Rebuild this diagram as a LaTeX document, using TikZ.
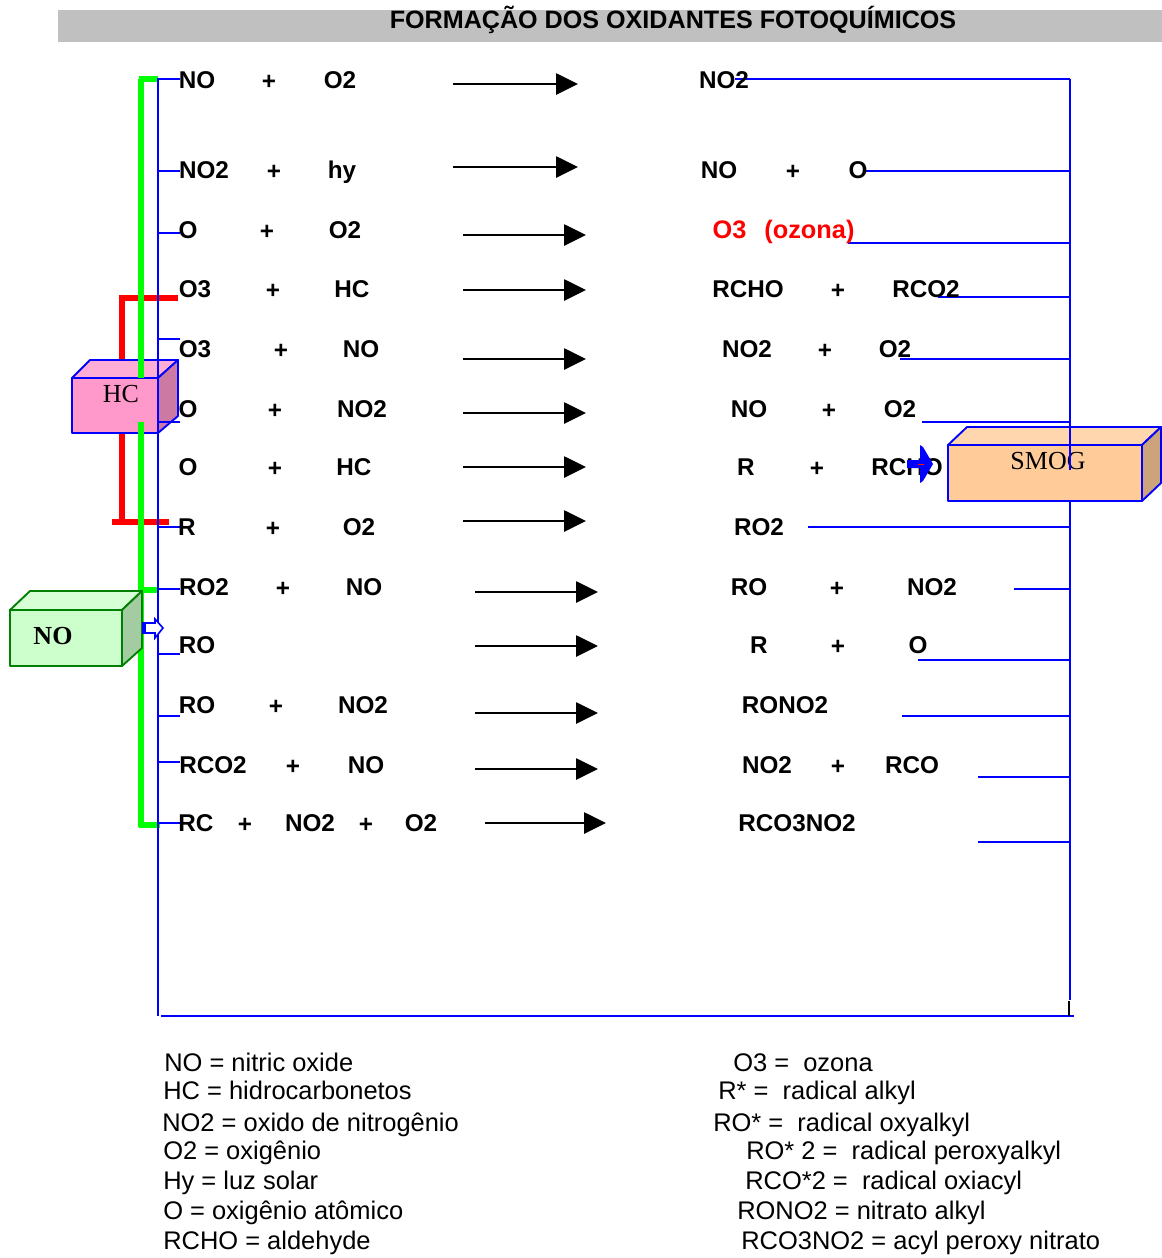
\documentclass[tikz,border=0pt]{standalone}
\usepackage{fontspec}
\setmainfont{Liberation Sans}
\newfontfamily\boxfont{Liberation Serif}
\usepackage{xcolor}
\usepackage{tikz}
\usetikzlibrary{arrows.meta}
\definecolor{titlegray}{HTML}{C0C0C0}
\definecolor{busblue}{HTML}{0000FF}
\definecolor{nogreen}{HTML}{00FF00}
\definecolor{noedge}{HTML}{008000}
\definecolor{nofront}{HTML}{CCFFCC}
\definecolor{notop}{HTML}{D6FFD6}
\definecolor{noside}{HTML}{A3CCA3}
\definecolor{hcfront}{HTML}{FF99CC}
\definecolor{hctop}{HTML}{FFADD6}
\definecolor{hcside}{HTML}{CC7AA3}
\definecolor{smogfront}{HTML}{FFCC99}
\definecolor{smogtop}{HTML}{FFD6AD}
\definecolor{smogside}{HTML}{CCA37A}
\tikzset{
  species/.style={anchor=base,inner sep=0pt,yshift=1.5pt,font=\fontsize{18.2}{20}\selectfont\bfseries},
  legend/.style={anchor=base west,inner sep=0pt,font=\fontsize{19.1}{20}\selectfont},
  boxlabel/.style={anchor=base,inner sep=0pt,font=\fontsize{19.5}{20}\selectfont\boxfont},
  reactarr/.style={-{Triangle[length=16.5pt,width=16pt]},line width=1.2pt,draw=black},
  busline/.style={line width=1.4pt,draw=busblue},
  greenbus/.style={line width=4.5pt,draw=nogreen},
  redbus/.style={line width=4.2pt,draw=red},
  boxedge/.style={line width=1.4pt,line join=round}
}
\begin{document}
\begin{tikzpicture}[x=0.75pt,y=-0.75pt]
    \useasboundingbox (0,0) rectangle (1162,1258);

    \fill[titlegray] (58,10) rectangle (1162,42);
    \node[species,font=\fontsize{18.85}{20}\selectfont\bfseries] (title) at (673,30)
      {FORMAÇÃO DOS OXIDANTES FOTOQUÍMICOS};

    % HC supply
    \draw[redbus] (122,360) -- (122,298) -- (178,298);
    \draw[redbus] (122,432) -- (122,522);
    \draw[redbus] (112,522) -- (169,522);

    \draw[boxedge,draw=busblue,fill=hctop] (72,378) -- (90,360) -- (178,360) -- (158,378) -- cycle;
    \draw[boxedge,draw=busblue,fill=hcside] (158,378) -- (178,360) -- (178,416) -- (158,433) -- cycle;
    \draw[boxedge,draw=busblue,fill=hcfront] (72,378) rectangle (158,433);
    \node[boxlabel] (hc) at (121,402) {HC};

    % NO supply
    \draw[greenbus] (141,79) -- (141,378);
    \draw[greenbus] (141,422) -- (141,827);
    \draw[greenbus] (138.8,79) -- (158,79);
    \draw[greenbus] (138.8,590) -- (158,590);
    \draw[greenbus] (138.8,825) -- (160,825);

    % collecting lines
    \draw[busline] (158,78) -- (158,1016);
    \draw[busline] (161,1016) -- (1074,1016);
    \draw[busline] (1070,79) -- (1070,1000);
    \draw[line width=1.5pt] (1068.5,1001) -- (1068.5,1016);

    \foreach \n/\yy in {a/79,b/171,c/233,d/339,e/422,f/527,g/589,h/654,i/716,j/762,k/823}{
      \coordinate (ls\n) at (158,\yy);
      \coordinate (le\n) at (180,\yy);
      \draw[busline] (ls\n) -- (le\n);
    }
    \foreach \n/\xx/\yy in {a/735/79,b/865/171,c/848/243,d/938/297,e/900/359,f/922/422,
                            g/808/527,h/1014/589,i/918/660,j/902/716,k/978/777,l/978/842}{
      \coordinate (rs\n) at (\xx,\yy);
      \coordinate (re\n) at (1070,\yy);
      \draw[busline] (rs\n) -- (re\n);
    }

    \draw[boxedge,draw=noedge,fill=notop] (10,610) -- (30,591) -- (142,591) -- (122,610) -- cycle;
    \draw[boxedge,draw=noedge,fill=noside] (122,610) -- (142,591) -- (142,648) -- (122,666) -- cycle;
    \draw[boxedge,draw=noedge,fill=nofront] (10,610) rectangle (122,666);
    \node[boxlabel,font=\fontsize{19.5}{20}\selectfont\boxfont\bfseries] (no) at (53,644) {NO};

    \draw[line width=1.2pt,draw=busblue,fill=white] (143,623) -- (155,623) -- (155,619)
      -- (163,628) -- (155,638) -- (155,633) -- (143,633) -- cycle;
    \fill[busblue] (142,623) rectangle (146,634);

    % SMOG
    \draw[boxedge,draw=busblue,fill=smogtop] (948,445) -- (967,427) -- (1161,427) -- (1142,445) -- cycle;
    \draw[boxedge,draw=busblue,fill=smogside] (1142,445) -- (1161,427) -- (1161,483) -- (1142,501) -- cycle;
    \draw[boxedge,draw=busblue,fill=smogfront] (948,445) rectangle (1142,501);
    \node[boxlabel] (smog) at (1048,469) {SMOG};
    \coordinate (smogin) at (1070,427);
    \coordinate (smogstop) at (1070,470);
    \draw[busline] (smogin) -- (smogstop);

    % reactions
    \foreach \nm/\xx/\yy/\txt in {
      aa/197/90/NO,ab/269/91/+,ac/340/90/O2,ad/724/90/NO2,
      ba/204/180/NO2,bb/274/181/+,bc/342/180/hy,bd/719/180/NO,be/793/181/+,bf/858/180/O,
      ca/188/240/O,cb/267/241/+,cc/345/240/O2,
      da/195/299/O3,db/273/300/+,dc/352/299/HC,dd/748/299/RCHO,de/838/300/+,df/926/299/RCO2,
      ea/195/359/O3,eb/281/360/+,ec/361/359/NO,ed/747/359/NO2,ee/825/360/+,ef/895/359/O2,
      fa/188/419/O,fb/275/420/+,fc/362/419/NO2,fd/749/419/NO,fe/829/420/+,ff/900/419/O2,
      ga/188/477/O,gb/275/478/+,gc/354/477/HC,gd/746/477/R,ge/817/478/+,gf/907/477/RCHO,
      ha/187/537/R,hb/273/538/+,hc/359/537/O2,hd/759/537/RO2,
      ia/204/597/RO2,ib/283/598/+,ic/364/597/NO,id/749/597/RO,ie/837/598/+,if/932/597/NO2,
      ja/197/655/RO,jd/759/655/R,je/838/656/+,jf/918/655/O,
      ka/197/715/RO,kb/276/716/+,kc/363/715/NO2,kd/785/715/RONO2,
      la/213/775/RCO2,lb/293/776/+,lc/366/775/NO,ld/767/775/NO2,le/838/776/+,lf/912/775/RCO,
      ma/196/833/RC,mb/245/834/+,mc/310/833/NO2,md/366/834/+,me/421/833/O2,mf/797/833/RCO3NO2}{
      \node[species] (\nm) at (\xx,\yy) {\txt};
    }
    \node[species,text=red,font=\fontsize{19}{20}\selectfont\bfseries] (ozona) at (783.5,240) {O3\ \ \hspace{3pt}(ozona)};

    \foreach \n/\xa/\xb/\yy in {a/453/578/84,b/453/578/167,c/463/586/235,d/463/586/290,
                                e/463/586/359,f/463/586/413,g/463/586/467,h/463/586/521,
                                i/475/598/592,j/475/598/646,k/475/598/713,l/475/598/769,
                                m/485/606/823}{
      \coordinate (as\n) at (\xa,\yy);
      \coordinate (ae\n) at (\xb,\yy);
      \draw[reactarr] (as\n) -- (ae\n);
    }

    \fill[busblue] (907,460) -- (920,460) -- (920,445) -- (923,447) -- (933,464)
      -- (923,481) -- (920,483) -- (920,468) -- (907,468) -- cycle;
    \fill[red!80!orange] (918,463.5) rectangle (924,465);

    % legend
    \foreach \nm/\xx/\yy/\txt in {
      na/164/1071/NO = nitric oxide,
      nb/163/1099/HC = hidrocarbonetos,
      nc/162/1131/NO2 = oxido de nitrogênio,
      nd/163/1159/O2 = oxigênio,
      ne/163/1189/Hy = luz solar,
      nf/163/1219/O = oxigênio atômico,
      ng/163/1249/RCHO = aldehyde,
      oa/733/1071/O3 =\ \ ozona,
      ob/718/1099/R* =\ \ radical alkyl,
      oc/713/1131/RO* =\ \ radical oxyalkyl,
      od/746/1159/RO* 2 =\ \ radical peroxyalkyl,
      oe/745/1189/RCO*2 =\ \ radical oxiacyl,
      of/737/1219/RONO2 = nitrato alkyl,
      og/741/1249/RCO3NO2 = acyl peroxy nitrato}{
      \node[legend] (\nm) at (\xx,\yy) {\txt};
    }
  \end{tikzpicture}
\end{document}
